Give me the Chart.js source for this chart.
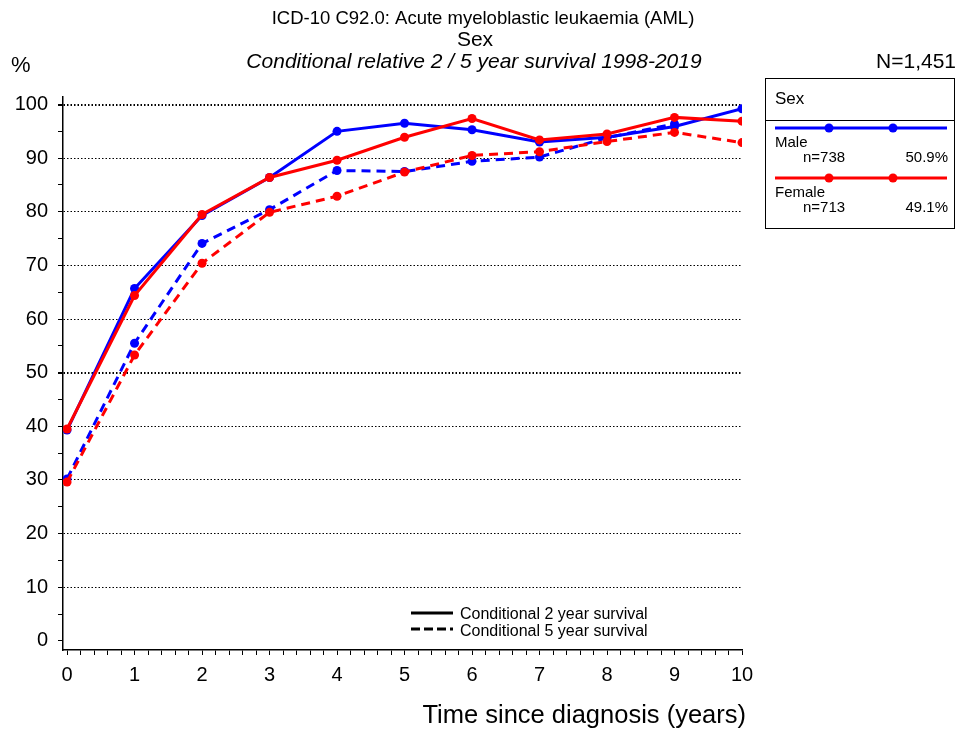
<!DOCTYPE html>
<html>
<head>
<meta charset="utf-8">
<script src="https://cdn.jsdelivr.net/npm/chart.js@4"></script>
<style>
  body { margin: 0; background: #fff; }
  #wrap { width: 956px; height: 733px; }
</style>
</head>
<body>
<div id="wrap"><canvas id="grafico"></canvas></div>
<script>
// dados
const anos = [0, 1, 2, 3, 4, 5, 6, 7, 8, 9, 10];
const masc2 = [39.3, 65.7, 79.3, 86.4, 95.0, 96.5, 95.3, 93.0, 93.9, 95.9, 99.2];
const fem2 = [39.5, 64.4, 79.5, 86.4, 89.6, 93.9, 97.4, 93.4, 94.5, 97.6, 96.9];
const masc5 = [30.2, 55.5, 74.1, 80.4, 87.7, 87.5, 89.4, 90.2, 93.8, 96.4, null];
const fem5 = [29.6, 53.3, 70.4, 79.9, 82.9, 87.4, 90.5, 91.2, 93.1, 94.8, 92.9];
const grupos = ['Male', 'Female'];
const contagens = ['n=738', 'n=713'];
const percentuais = ['50.9%', '49.1%'];

const AZUL = '#0000ff';
const VERMELHO = '#ff0000';
const FONTE = '"Liberation Sans", Arial, sans-serif';

function pontos(valores) {
  return anos.map((a, i) => ({ x: a, y: valores[i] }));
}

function serie(label, valores, cor, tracejado) {
  return {
    label,
    data: pontos(valores),
    borderColor: cor,
    backgroundColor: cor,
    borderWidth: 3,
    borderDash: tracejado ? [9, 6] : [],
    pointRadius: 4.5,
    pointBorderWidth: 0,
    tension: 0,
    spanGaps: false
  };
}

// textos e legendas desenhados por fora
const textosExtras = {
  id: 'textosExtras',
  afterDraw(chart) {
    const c = chart.ctx;
    c.save();
    c.fillStyle = '#000';
    c.textBaseline = 'middle';

    c.textAlign = 'center';
    c.font = '18.5px ' + FONTE;
    c.fillText('ICD-10 C92.0: Acute myeloblastic leukaemia (AML)', 483, 19);
    c.font = '21px ' + FONTE;
    c.fillText('Sex', 475, 40);
    c.font = 'italic 21px ' + FONTE;
    c.fillText('Conditional relative 2 / 5 year survival 1998-2019', 474, 62);

    c.textAlign = 'left';
    c.font = '22px ' + FONTE;
    c.fillText('%', 11, 66);
    c.font = '21px ' + FONTE;
    c.textAlign = 'right';
    c.fillText('N=1,451', 956, 62);

    // título do eixo x
    c.font = '25.5px ' + FONTE;
    c.fillText('Time since diagnosis (years)', 746, 716);

    // caixa de legenda
    c.strokeStyle = '#000';
    c.lineWidth = 1;
    c.strokeRect(765.5, 78.5, 189, 150);
    c.beginPath();
    c.moveTo(765, 120.5);
    c.lineTo(955, 120.5);
    c.stroke();
    c.textAlign = 'left';
    c.font = '17px ' + FONTE;
    c.fillText('Sex', 775, 99);

    const cores = [AZUL, VERMELHO];
    const yLinha = [128, 178];
    c.font = '15px ' + FONTE;
    grupos.forEach((g, i) => {
      const y = yLinha[i];
      c.strokeStyle = cores[i];
      c.fillStyle = cores[i];
      c.lineWidth = 3;
      c.beginPath();
      c.moveTo(775, y);
      c.lineTo(947, y);
      c.stroke();
      [829, 893].forEach(px => {
        c.beginPath();
        c.arc(px, y, 4.5, 0, Math.PI * 2);
        c.fill();
      });
      c.fillStyle = '#000';
      c.textAlign = 'left';
      c.fillText(g, 775, y + 15);
      c.fillText(contagens[i], 803, y + 30);
      c.textAlign = 'right';
      c.fillText(percentuais[i], 948, y + 30);
    });

    // legenda de estilo de linha
    c.strokeStyle = '#000';
    c.lineWidth = 3;
    c.beginPath();
    c.moveTo(411, 613);
    c.lineTo(453, 613);
    c.stroke();
    c.setLineDash([9, 4]);
    c.beginPath();
    c.moveTo(411, 629);
    c.lineTo(453, 629);
    c.stroke();
    c.setLineDash([]);
    c.fillStyle = '#000';
    c.textAlign = 'left';
    c.font = '16px ' + FONTE;
    c.fillText('Conditional 2 year survival', 460, 615);
    c.fillText('Conditional 5 year survival', 460, 632);

    c.restore();
  }
};

const ctx = document.getElementById('grafico').getContext('2d');
const grafico = new Chart(ctx, {
  type: 'line',
  data: {
    datasets: [
      serie('Female 2', fem2, VERMELHO, false),
      serie('Female 5', fem5, VERMELHO, true),
      serie('Male 2', masc2, AZUL, false),
      serie('Male 5', masc5, AZUL, true)
    ]
  },
  options: {
    responsive: true,
    maintainAspectRatio: false,
    animation: false,
    layout: { padding: { left: 0, top: 97, right: 214, bottom: 0 } },
    plugins: {
      legend: { display: false },
      title: { display: false },
      tooltip: { enabled: false }
    },
    scales: {
      x: {
        type: 'linear',
        min: -0.06,
        max: 10,
        afterFit: s => { s.height = 83; },
        ticks: {
          stepSize: 0.2,
          includeBounds: false,
          autoSkip: false,
          maxRotation: 0,
          padding: 8,
          color: '#000',
          font: { family: FONTE, size: 20 },
          callback: v => Math.abs(v - Math.round(v)) < 1e-6 ? String(Math.round(v)) : ''
        },
        grid: {
          drawOnChartArea: false,
          drawTicks: true,
          tickLength: 5,
          tickColor: '#000',
          tickWidth: 1
        },
        border: { display: true, color: '#000', width: 1.5 }
      },
      y: {
        min: -1.7,
        max: 101.4,
        afterFit: s => { s.width = 63; },
        ticks: {
          stepSize: 5,
          includeBounds: false,
          autoSkip: false,
          padding: 10,
          color: '#000',
          font: { family: FONTE, size: 20 },
          callback: v => Math.abs(v % 10) < 1e-6 ? String(Math.round(v)) : ''
        },
        grid: {
          drawTicks: true,
          tickLength: 5,
          tickColor: '#000',
          color: c => (c.tick && Math.abs(c.tick.value % 10) < 1e-6 && c.tick.value > 0) ? '#000' : 'rgba(0,0,0,0)',
          lineWidth: c => (c.tick && (c.tick.value === 100 || c.tick.value === 50)) ? 2 : 1
        },
        border: { display: true, color: '#000', width: 1.5, dash: [1.5, 2] }
      }
    }
  },
  plugins: [textosExtras]
});
</script>
</body>
</html>
